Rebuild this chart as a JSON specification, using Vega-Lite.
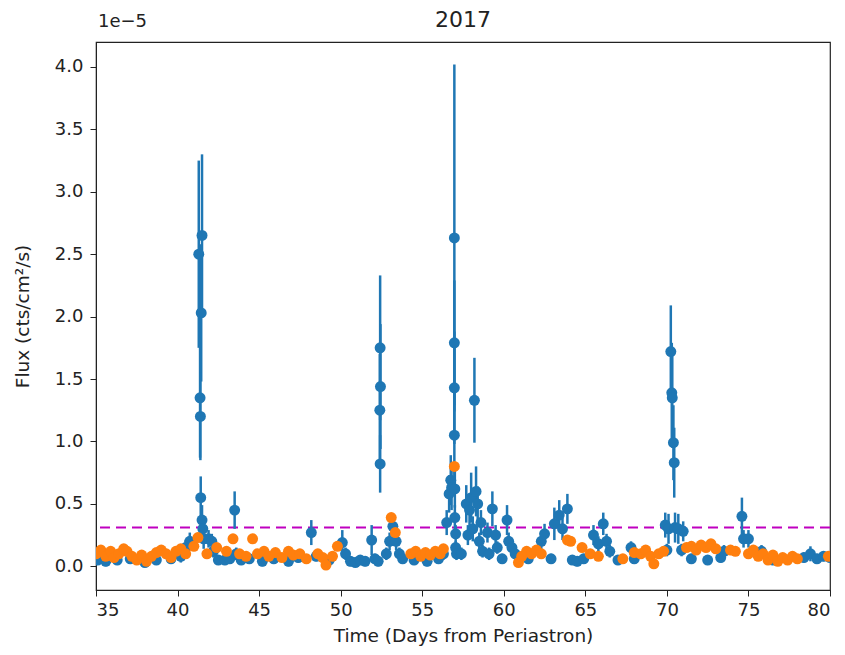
{
  "$schema": "https://vega.github.io/schema/vega-lite/v6.json",
  "autosize": "none",
  "width": 734,
  "height": 548,
  "padding": {"left": 96, "top": 42, "right": 15, "bottom": 65},
  "background": "white",
  "title": {"text": "2017", "fontSize": 22, "fontWeight": "normal", "font": "DejaVu Sans", "color": "#222", "offset": 9, "dy": 28},
  "config": {
    "view": {"stroke": "#222", "strokeWidth": 1.2},
    "axis": {
      "grid": false, "domainColor": "#222", "tickColor": "#222", "tickSize": 6,
      "labelFont": "DejaVu Sans", "labelFontSize": 18, "labelColor": "#222",
      "titleFont": "DejaVu Sans", "titleFontSize": 18.5, "titleFontWeight": "normal", "titleColor": "#222"
    }
  },
  "datasets": {
    "blue": [
      {"t": 35.1, "flux": 0.05, "lo": 0.01, "hi": 0.09},
      {"t": 35.6, "flux": 0.04, "lo": 0.0, "hi": 0.08},
      {"t": 36.3, "flux": 0.05, "lo": 0.01, "hi": 0.09},
      {"t": 37.1, "flux": 0.06, "lo": 0.02, "hi": 0.1},
      {"t": 38.0, "flux": 0.03, "lo": 0.0, "hi": 0.07},
      {"t": 38.7, "flux": 0.05, "lo": 0.01, "hi": 0.09},
      {"t": 39.6, "flux": 0.06, "lo": 0.02, "hi": 0.1},
      {"t": 40.2, "flux": 0.08, "lo": 0.03, "hi": 0.13},
      {"t": 40.5, "flux": 0.15, "lo": 0.09, "hi": 0.21},
      {"t": 40.75, "flux": 0.2, "lo": 0.13, "hi": 0.27},
      {"t": 41.3, "flux": 2.5, "lo": 1.75, "hi": 3.25},
      {"t": 41.5, "flux": 2.65, "lo": 2.0, "hi": 3.3},
      {"t": 41.45, "flux": 2.03, "lo": 1.48, "hi": 2.58},
      {"t": 41.38, "flux": 1.35, "lo": 0.87, "hi": 1.83},
      {"t": 41.4, "flux": 1.2, "lo": 0.85, "hi": 1.55},
      {"t": 41.42, "flux": 0.55, "lo": 0.4, "hi": 0.72},
      {"t": 41.5, "flux": 0.37, "lo": 0.25, "hi": 0.49},
      {"t": 41.55, "flux": 0.3, "lo": 0.2, "hi": 0.4},
      {"t": 41.6, "flux": 0.22, "lo": 0.14, "hi": 0.3},
      {"t": 41.9, "flux": 0.22, "lo": 0.15, "hi": 0.29},
      {"t": 42.1, "flux": 0.2, "lo": 0.14, "hi": 0.26},
      {"t": 42.2, "flux": 0.12, "lo": 0.07, "hi": 0.17},
      {"t": 42.5, "flux": 0.05, "lo": 0.01, "hi": 0.09},
      {"t": 42.9, "flux": 0.05, "lo": 0.01, "hi": 0.09},
      {"t": 43.2, "flux": 0.06, "lo": 0.02, "hi": 0.1},
      {"t": 43.5, "flux": 0.45, "lo": 0.3, "hi": 0.6},
      {"t": 43.6, "flux": 0.1, "lo": 0.05, "hi": 0.15},
      {"t": 43.9, "flux": 0.05, "lo": 0.01, "hi": 0.09},
      {"t": 44.4, "flux": 0.06, "lo": 0.02, "hi": 0.1},
      {"t": 45.2, "flux": 0.04, "lo": 0.0, "hi": 0.08},
      {"t": 45.9, "flux": 0.06, "lo": 0.02, "hi": 0.1},
      {"t": 46.8, "flux": 0.04, "lo": 0.0, "hi": 0.08},
      {"t": 47.4, "flux": 0.07, "lo": 0.03, "hi": 0.11},
      {"t": 48.2, "flux": 0.27, "lo": 0.17, "hi": 0.37},
      {"t": 48.5, "flux": 0.08, "lo": 0.04, "hi": 0.12},
      {"t": 49.3, "flux": 0.05, "lo": 0.01, "hi": 0.09},
      {"t": 50.1, "flux": 0.19, "lo": 0.09, "hi": 0.29},
      {"t": 50.3, "flux": 0.1, "lo": 0.05, "hi": 0.15},
      {"t": 50.6, "flux": 0.04, "lo": 0.0, "hi": 0.08},
      {"t": 50.9, "flux": 0.03, "lo": 0.0, "hi": 0.07},
      {"t": 51.2, "flux": 0.05, "lo": 0.01, "hi": 0.09},
      {"t": 51.5, "flux": 0.04, "lo": 0.0, "hi": 0.08},
      {"t": 51.9, "flux": 0.21, "lo": 0.09, "hi": 0.33},
      {"t": 52.1, "flux": 0.06, "lo": 0.02, "hi": 0.1},
      {"t": 52.3, "flux": 0.04, "lo": 0.0, "hi": 0.08},
      {"t": 52.42, "flux": 1.75, "lo": 1.17, "hi": 2.33},
      {"t": 52.44, "flux": 1.44, "lo": 0.94, "hi": 1.94},
      {"t": 52.4, "flux": 1.25, "lo": 0.8, "hi": 1.7},
      {"t": 52.42, "flux": 0.82, "lo": 0.59, "hi": 1.05},
      {"t": 52.8, "flux": 0.1, "lo": 0.05, "hi": 0.15},
      {"t": 53.0, "flux": 0.2, "lo": 0.13, "hi": 0.27},
      {"t": 53.2, "flux": 0.32, "lo": 0.22, "hi": 0.42},
      {"t": 53.4, "flux": 0.2, "lo": 0.13, "hi": 0.27},
      {"t": 53.6, "flux": 0.1, "lo": 0.05, "hi": 0.15},
      {"t": 53.8, "flux": 0.06, "lo": 0.02, "hi": 0.1},
      {"t": 54.5, "flux": 0.05, "lo": 0.01, "hi": 0.09},
      {"t": 55.3, "flux": 0.04, "lo": 0.0, "hi": 0.08},
      {"t": 56.0, "flux": 0.06, "lo": 0.02, "hi": 0.1},
      {"t": 56.3, "flux": 0.1, "lo": 0.05, "hi": 0.15},
      {"t": 56.5, "flux": 0.35, "lo": 0.25, "hi": 0.45},
      {"t": 56.65, "flux": 0.58, "lo": 0.43, "hi": 0.73},
      {"t": 56.75, "flux": 0.69, "lo": 0.49, "hi": 0.89},
      {"t": 56.8, "flux": 0.63, "lo": 0.45, "hi": 0.81},
      {"t": 56.97, "flux": 2.63, "lo": 1.24, "hi": 4.02},
      {"t": 56.97, "flux": 1.79, "lo": 1.29, "hi": 2.29},
      {"t": 56.97, "flux": 1.43, "lo": 0.98, "hi": 1.88},
      {"t": 56.97, "flux": 1.05, "lo": 0.7, "hi": 1.4},
      {"t": 57.0, "flux": 0.62, "lo": 0.47, "hi": 0.77},
      {"t": 57.0, "flux": 0.39, "lo": 0.29, "hi": 0.49},
      {"t": 57.05, "flux": 0.26, "lo": 0.19, "hi": 0.33},
      {"t": 57.05, "flux": 0.15, "lo": 0.1, "hi": 0.2},
      {"t": 57.1, "flux": 0.1, "lo": 0.05, "hi": 0.15},
      {"t": 57.4, "flux": 0.1, "lo": 0.05, "hi": 0.15},
      {"t": 57.7, "flux": 0.5, "lo": 0.35, "hi": 0.65},
      {"t": 57.8, "flux": 0.25, "lo": 0.17, "hi": 0.33},
      {"t": 57.9, "flux": 0.45, "lo": 0.33, "hi": 0.57},
      {"t": 58.0, "flux": 0.55, "lo": 0.35, "hi": 0.75},
      {"t": 58.1, "flux": 0.3, "lo": 0.2, "hi": 0.4},
      {"t": 58.2, "flux": 1.33, "lo": 0.99, "hi": 1.67},
      {"t": 58.3, "flux": 0.6, "lo": 0.4, "hi": 0.8},
      {"t": 58.4, "flux": 0.5, "lo": 0.36, "hi": 0.64},
      {"t": 58.5, "flux": 0.2, "lo": 0.13, "hi": 0.27},
      {"t": 58.6, "flux": 0.35, "lo": 0.25, "hi": 0.45},
      {"t": 58.7, "flux": 0.12, "lo": 0.07, "hi": 0.17},
      {"t": 59.0, "flux": 0.27, "lo": 0.19, "hi": 0.35},
      {"t": 59.1, "flux": 0.1, "lo": 0.05, "hi": 0.15},
      {"t": 59.3, "flux": 0.46, "lo": 0.32, "hi": 0.6},
      {"t": 59.5, "flux": 0.25, "lo": 0.17, "hi": 0.33},
      {"t": 59.6, "flux": 0.15, "lo": 0.1, "hi": 0.2},
      {"t": 59.9, "flux": 0.06, "lo": 0.02, "hi": 0.1},
      {"t": 60.2, "flux": 0.37, "lo": 0.25, "hi": 0.49},
      {"t": 60.3, "flux": 0.2, "lo": 0.13, "hi": 0.27},
      {"t": 60.5, "flux": 0.15, "lo": 0.1, "hi": 0.2},
      {"t": 60.7, "flux": 0.1, "lo": 0.05, "hi": 0.15},
      {"t": 61.5, "flux": 0.06, "lo": 0.02, "hi": 0.1},
      {"t": 62.3, "flux": 0.2, "lo": 0.13, "hi": 0.27},
      {"t": 62.5, "flux": 0.26, "lo": 0.18, "hi": 0.34},
      {"t": 62.9, "flux": 0.06, "lo": 0.02, "hi": 0.1},
      {"t": 63.1, "flux": 0.34, "lo": 0.21, "hi": 0.47},
      {"t": 63.4, "flux": 0.41, "lo": 0.29, "hi": 0.53},
      {"t": 63.6, "flux": 0.3, "lo": 0.21, "hi": 0.39},
      {"t": 63.9, "flux": 0.46, "lo": 0.34, "hi": 0.58},
      {"t": 64.2, "flux": 0.05, "lo": 0.01, "hi": 0.09},
      {"t": 64.5, "flux": 0.04, "lo": 0.0, "hi": 0.08},
      {"t": 64.9, "flux": 0.06, "lo": 0.02, "hi": 0.1},
      {"t": 65.5, "flux": 0.25, "lo": 0.17, "hi": 0.33},
      {"t": 65.8, "flux": 0.18, "lo": 0.12, "hi": 0.24},
      {"t": 66.1, "flux": 0.34, "lo": 0.25, "hi": 0.43},
      {"t": 66.3, "flux": 0.2, "lo": 0.14, "hi": 0.26},
      {"t": 66.5, "flux": 0.12, "lo": 0.07, "hi": 0.17},
      {"t": 67.0, "flux": 0.05, "lo": 0.01, "hi": 0.09},
      {"t": 67.8, "flux": 0.15, "lo": 0.1, "hi": 0.2},
      {"t": 68.0, "flux": 0.06, "lo": 0.02, "hi": 0.1},
      {"t": 69.9, "flux": 0.33, "lo": 0.23, "hi": 0.43},
      {"t": 70.0, "flux": 0.13, "lo": 0.08, "hi": 0.18},
      {"t": 70.1, "flux": 0.3, "lo": 0.18, "hi": 0.42},
      {"t": 70.24, "flux": 1.72, "lo": 1.35, "hi": 2.09},
      {"t": 70.3, "flux": 1.39, "lo": 0.99, "hi": 1.79},
      {"t": 70.33, "flux": 1.35, "lo": 0.95, "hi": 1.75},
      {"t": 70.4, "flux": 0.99, "lo": 0.69, "hi": 1.29},
      {"t": 70.45, "flux": 0.83, "lo": 0.55, "hi": 1.11},
      {"t": 70.5, "flux": 0.31, "lo": 0.19, "hi": 0.43},
      {"t": 70.7, "flux": 0.3, "lo": 0.18, "hi": 0.42},
      {"t": 70.9, "flux": 0.13, "lo": 0.08, "hi": 0.18},
      {"t": 71.0, "flux": 0.28, "lo": 0.2, "hi": 0.36},
      {"t": 71.5, "flux": 0.06, "lo": 0.02, "hi": 0.1},
      {"t": 72.5, "flux": 0.05, "lo": 0.01, "hi": 0.09},
      {"t": 73.3, "flux": 0.07, "lo": 0.03, "hi": 0.11},
      {"t": 73.5, "flux": 0.12, "lo": 0.07, "hi": 0.17},
      {"t": 74.6, "flux": 0.4, "lo": 0.25, "hi": 0.55},
      {"t": 74.7, "flux": 0.22, "lo": 0.15, "hi": 0.29},
      {"t": 75.0, "flux": 0.22, "lo": 0.15, "hi": 0.29},
      {"t": 75.8, "flux": 0.12, "lo": 0.07, "hi": 0.17},
      {"t": 76.5, "flux": 0.05, "lo": 0.01, "hi": 0.09},
      {"t": 78.4, "flux": 0.07, "lo": 0.03, "hi": 0.11},
      {"t": 78.8, "flux": 0.1, "lo": 0.04, "hi": 0.16},
      {"t": 79.2, "flux": 0.06, "lo": 0.02, "hi": 0.1},
      {"t": 79.6, "flux": 0.08, "lo": 0.04, "hi": 0.12},
      {"t": 80.0, "flux": 0.07, "lo": 0.03, "hi": 0.11}
    ],
    "orange": [
      {"t": 35.0, "flux": 0.1}, {"t": 35.3, "flux": 0.13}, {"t": 35.6, "flux": 0.08}, {"t": 35.9, "flux": 0.12},
      {"t": 36.1, "flux": 0.07}, {"t": 36.4, "flux": 0.1}, {"t": 36.7, "flux": 0.14}, {"t": 36.9, "flux": 0.12},
      {"t": 37.2, "flux": 0.08}, {"t": 37.5, "flux": 0.05}, {"t": 37.8, "flux": 0.09}, {"t": 38.1, "flux": 0.04},
      {"t": 38.4, "flux": 0.08}, {"t": 38.7, "flux": 0.11}, {"t": 39.0, "flux": 0.13}, {"t": 39.3, "flux": 0.1},
      {"t": 39.6, "flux": 0.07}, {"t": 39.9, "flux": 0.12}, {"t": 40.2, "flux": 0.14}, {"t": 40.5, "flux": 0.1},
      {"t": 41.0, "flux": 0.16}, {"t": 41.25, "flux": 0.23}, {"t": 41.8, "flux": 0.1}, {"t": 42.4, "flux": 0.15},
      {"t": 43.0, "flux": 0.12}, {"t": 43.4, "flux": 0.22}, {"t": 43.8, "flux": 0.1}, {"t": 44.2, "flux": 0.08},
      {"t": 44.6, "flux": 0.22}, {"t": 44.9, "flux": 0.1}, {"t": 45.3, "flux": 0.12}, {"t": 45.6, "flux": 0.08},
      {"t": 46.0, "flux": 0.11}, {"t": 46.4, "flux": 0.07}, {"t": 46.8, "flux": 0.12}, {"t": 47.1, "flux": 0.09},
      {"t": 47.5, "flux": 0.1}, {"t": 47.9, "flux": 0.06}, {"t": 48.6, "flux": 0.1}, {"t": 48.9, "flux": 0.07},
      {"t": 49.1, "flux": 0.01}, {"t": 49.5, "flux": 0.08}, {"t": 49.8, "flux": 0.16}, {"t": 53.1, "flux": 0.39},
      {"t": 53.35, "flux": 0.27}, {"t": 54.3, "flux": 0.1}, {"t": 54.6, "flux": 0.12}, {"t": 54.9, "flux": 0.08},
      {"t": 55.2, "flux": 0.11}, {"t": 55.5, "flux": 0.09}, {"t": 55.8, "flux": 0.12}, {"t": 56.1, "flux": 0.1},
      {"t": 56.3, "flux": 0.14}, {"t": 56.97, "flux": 0.8}, {"t": 60.9, "flux": 0.03}, {"t": 61.1, "flux": 0.08},
      {"t": 61.4, "flux": 0.12}, {"t": 61.7, "flux": 0.1}, {"t": 62.0, "flux": 0.13}, {"t": 62.3, "flux": 0.1},
      {"t": 63.9, "flux": 0.21}, {"t": 64.1, "flux": 0.2}, {"t": 64.8, "flux": 0.15}, {"t": 65.3, "flux": 0.1},
      {"t": 65.8, "flux": 0.08}, {"t": 67.3, "flux": 0.06}, {"t": 68.0, "flux": 0.11}, {"t": 68.4, "flux": 0.1},
      {"t": 68.7, "flux": 0.13}, {"t": 69.0, "flux": 0.08}, {"t": 69.2, "flux": 0.02}, {"t": 69.5, "flux": 0.1},
      {"t": 69.8, "flux": 0.12}, {"t": 71.2, "flux": 0.15}, {"t": 71.5, "flux": 0.16}, {"t": 71.8, "flux": 0.13},
      {"t": 72.1, "flux": 0.17}, {"t": 72.4, "flux": 0.15}, {"t": 72.7, "flux": 0.18}, {"t": 73.0, "flux": 0.14},
      {"t": 73.9, "flux": 0.13}, {"t": 74.2, "flux": 0.12}, {"t": 75.0, "flux": 0.1}, {"t": 75.3, "flux": 0.13},
      {"t": 75.6, "flux": 0.08}, {"t": 75.9, "flux": 0.1}, {"t": 76.2, "flux": 0.05}, {"t": 76.5, "flux": 0.09},
      {"t": 76.8, "flux": 0.04}, {"t": 77.1, "flux": 0.07}, {"t": 77.4, "flux": 0.05}, {"t": 77.7, "flux": 0.08},
      {"t": 78.0, "flux": 0.06}, {"t": 79.9, "flux": 0.08}
    ],
    "threshold": [{"level": 0.31}],
    "offset": [{"t": 35, "flux": 4.2, "label": "1e−5"}]
  },
  "layer": [
    {
      "data": {"name": "threshold"},
      "mark": {"type": "rule", "color": "#bf00bf", "strokeWidth": 2, "strokeDash": [10, 6]},
      "encoding": {
        "y": {"field": "level", "type": "quantitative", "scale": {"domain": [-0.19, 4.2], "nice": false, "zero": false}}
      }
    },
    {
      "data": {"name": "blue"},
      "mark": {"type": "rule", "color": "#1f77b4", "strokeWidth": 2.5, "clip": true},
      "encoding": {
        "x": {"field": "t", "type": "quantitative"},
        "y": {"field": "lo", "type": "quantitative"},
        "y2": {"field": "hi"}
      }
    },
    {
      "data": {"name": "blue"},
      "mark": {"type": "point", "filled": true, "opacity": 1, "color": "#1f77b4", "size": 120, "clip": true},
      "encoding": {
        "x": {"field": "t", "type": "quantitative"},
        "y": {"field": "flux", "type": "quantitative"}
      }
    },
    {
      "data": {"name": "orange"},
      "mark": {"type": "point", "filled": true, "opacity": 1, "color": "#ff7f0e", "size": 120, "clip": true},
      "encoding": {
        "x": {
          "field": "t", "type": "quantitative",
          "scale": {"domain": [35, 80], "nice": false, "zero": false},
          "axis": {"title": "Time (Days from Periastron)", "values": [35, 40, 45, 50, 55, 60, 65, 70, 75, 80], "labelPadding": 5, "titlePadding": 7}
        },
        "y": {
          "field": "flux", "type": "quantitative",
          "axis": {"title": "Flux (cts/cm²/s)", "values": [0, 0.5, 1, 1.5, 2, 2.5, 3, 3.5, 4], "format": ".1f", "labelPadding": 7, "titlePadding": 22}
        }
      }
    },
    {
      "data": {"name": "offset"},
      "mark": {"type": "text", "align": "left", "baseline": "middle", "dy": -20, "dx": 2, "fontSize": 18, "font": "DejaVu Sans", "color": "#222"},
      "encoding": {
        "x": {"field": "t", "type": "quantitative"},
        "y": {"field": "flux", "type": "quantitative"},
        "text": {"field": "label"}
      }
    }
  ]
}
